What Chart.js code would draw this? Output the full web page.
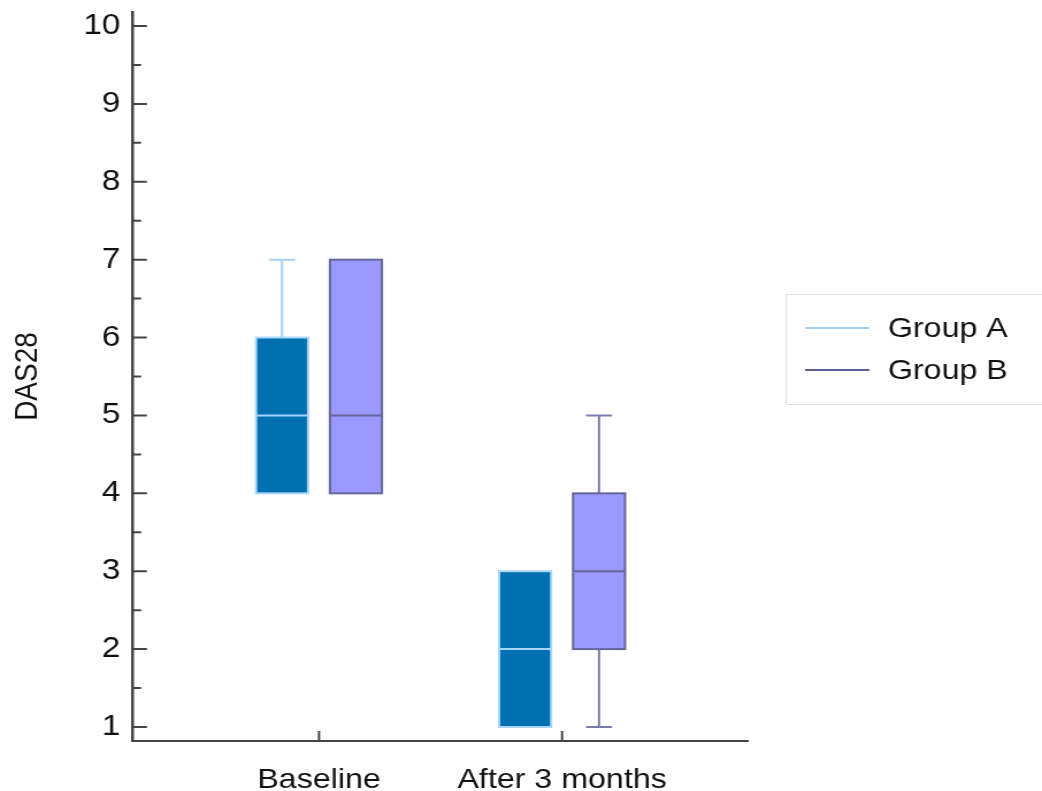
<!DOCTYPE html>
<html>
<head>
<meta charset="utf-8">
<title>DAS28</title>
<script src="https://cdn.jsdelivr.net/npm/chart.js@4.4.1/dist/chart.umd.min.js"></script>
<style>
  html, body { margin: 0; padding: 0; background: #fff; overflow: hidden; }
  /* the reference is drawn slightly wide, so the canvas is stretched horizontally */
  #wrap { width: 906px; height: 791px; transform: scaleX(1.1501); transform-origin: 0 0; }
</style>
</head>
<body>
<div id="wrap"><canvas id="chart" width="906" height="791"></canvas></div>
<script>
  'use strict';

  var categories = ['Baseline', 'After 3 months'];
  var yTicks = [1, 2, 3, 4, 5, 6, 7, 8, 9, 10];
  var groupLabels = ['Group A', 'Group B'];

  // box statistics, one value per category
  var groupAMin = [4, 1];
  var groupAQ1 = [4, 1];
  var groupAMedian = [5, 2];
  var groupAQ3 = [6, 3];
  var groupAMax = [7, 3];

  var groupBMin = [4, 1];
  var groupBQ1 = [4, 2];
  var groupBMedian = [5, 3];
  var groupBQ3 = [7, 4];
  var groupBMax = [7, 5];

  var font = { family: "'Liberation Sans', Arial, sans-serif", size: 28 };
  var textColor = '#111';
  var axisColor = '#444';

  var boxPlugin = {
    id: 'boxes',
    afterDatasetsDraw: function (chart) {
      var ctx = chart.ctx;
      var xs = chart.scales.x;
      var ys = chart.scales.y;
      ctx.save();
      chart.data.datasets.forEach(function (ds) {
        var s = ds.stats;
        var half = (xs.getPixelForValue(ds.boxWidth) - xs.getPixelForValue(0)) / 2;
        categories.forEach(function (c, i) {
          var cx = xs.getPixelForValue(i + ds.offset);
          var yMin = ys.getPixelForValue(s.min[i]);
          var yQ1 = ys.getPixelForValue(s.q1[i]);
          var yMed = ys.getPixelForValue(s.median[i]);
          var yQ3 = ys.getPixelForValue(s.q3[i]);
          var yMax = ys.getPixelForValue(s.max[i]);

          ctx.strokeStyle = ds.whiskerColor;
          ctx.lineWidth = 2;
          ctx.beginPath();
          if (s.max[i] > s.q3[i]) {
            ctx.moveTo(cx, yQ3); ctx.lineTo(cx, yMax);
            ctx.moveTo(cx - half / 2, yMax); ctx.lineTo(cx + half / 2, yMax);
          }
          if (s.min[i] < s.q1[i]) {
            ctx.moveTo(cx, yQ1); ctx.lineTo(cx, yMin);
            ctx.moveTo(cx - half / 2, yMin); ctx.lineTo(cx + half / 2, yMin);
          }
          ctx.stroke();

          ctx.fillStyle = ds.backgroundColor;
          ctx.fillRect(cx - half, yQ3, half * 2, yQ1 - yQ3);
          ctx.strokeStyle = ds.borderColor;
          ctx.lineWidth = 2;
          ctx.strokeRect(cx - half, yQ3, half * 2, yQ1 - yQ3);

          ctx.beginPath();
          ctx.moveTo(cx - half, yMed);
          ctx.lineTo(cx + half, yMed);
          ctx.stroke();
        });
      });
      ctx.restore();
    }
  };

  // inward tick marks on both axes
  var tickPlugin = {
    id: 'innerTicks',
    afterDraw: function (chart) {
      var ctx = chart.ctx;
      var xs = chart.scales.x;
      var ys = chart.scales.y;
      var left = chart.chartArea.left;
      var bottom = chart.chartArea.bottom;
      ctx.save();
      ctx.strokeStyle = axisColor;
      ctx.lineWidth = 2;
      ctx.beginPath();
      yTicks.forEach(function (v, i) {
        var y = ys.getPixelForValue(v);
        ctx.moveTo(left, y); ctx.lineTo(left + 12, y);
        if (i < yTicks.length - 1) {
          var ym = ys.getPixelForValue(v + 0.5);
          ctx.moveTo(left, ym); ctx.lineTo(left + 7, ym);
        }
      });
      categories.forEach(function (c, i) {
        var x = xs.getPixelForValue(i);
        ctx.moveTo(x, bottom); ctx.lineTo(x, bottom - 10);
      });
      ctx.stroke();
      ctx.restore();
    }
  };

  var legendPlugin = {
    id: 'boxLegend',
    afterDraw: function (chart) {
      var ctx = chart.ctx;
      ctx.save();
      ctx.strokeStyle = '#dddddd';
      ctx.lineWidth = 1;
      ctx.strokeRect(683.5, 294.5, 400, 110);
      ctx.font = font.size + 'px ' + font.family;
      ctx.textBaseline = 'middle';
      ctx.fillStyle = textColor;
      chart.data.datasets.forEach(function (ds, i) {
        var y = 328 + i * 42;
        ctx.strokeStyle = ds.legendColor;
        ctx.lineWidth = 2;
        ctx.beginPath();
        ctx.moveTo(700, y); ctx.lineTo(756, y);
        ctx.stroke();
        ctx.fillText(ds.label, 772, y + 1);
      });
      ctx.restore();
    }
  };

  var ctx = document.getElementById('chart');
  var chart = new Chart(ctx, {
    type: 'scatter',
    data: {
      datasets: [
        {
          label: groupLabels[0],
          data: [],
          stats: { min: groupAMin, q1: groupAQ1, median: groupAMedian, q3: groupAQ3, max: groupAMax },
          offset: -0.152,
          boxWidth: 0.214,
          backgroundColor: '#0070b0',
          borderColor: '#a8d6fb',
          whiskerColor: '#a3d1f7',
          legendColor: '#a3d1f7'
        },
        {
          label: groupLabels[1],
          data: [],
          stats: { min: groupBMin, q1: groupBQ1, median: groupBMedian, q3: groupBQ3, max: groupBMax },
          offset: 0.152,
          boxWidth: 0.214,
          backgroundColor: '#9999ff',
          borderColor: '#666699',
          whiskerColor: '#7a7aaa',
          legendColor: '#5c5c99'
        }
      ]
    },
    options: {
      responsive: false,
      animation: false,
      layout: { padding: { top: 12, right: 255.6, left: 0, bottom: 0 } },
      plugins: {
        legend: { display: false },
        tooltip: { enabled: false }
      },
      scales: {
        x: {
          type: 'linear',
          min: -0.765,
          max: 1.765,
          afterBuildTicks: function (axis) {
            axis.ticks = categories.map(function (c, i) { return { value: i }; });
          },
          afterFit: function (axis) {
            axis.height = 50;
            axis.paddingLeft = 0;
            axis.paddingRight = 0;
          },
          grid: { display: false },
          border: { display: true, color: axisColor, width: 2 },
          ticks: {
            padding: 14,
            color: textColor,
            font: font,
            maxRotation: 0,
            autoSkip: false,
            callback: function (value) { return categories[value]; }
          }
        },
        y: {
          min: 0.82,
          max: 10.18,
          afterBuildTicks: function (axis) {
            axis.ticks = yTicks.map(function (v) { return { value: v }; });
          },
          afterFit: function (axis) {
            axis.width = 115.7;
            axis.paddingTop = 0;
            axis.paddingBottom = 0;
          },
          grid: { display: false },
          border: { display: true, color: axisColor, width: 2.5 },
          ticks: { padding: 3, color: textColor, font: { family: font.family, size: 29 } },
          title: {
            display: true,
            text: 'DAS28',
            color: textColor,
            font: { family: font.family, size: 28, lineHeight: 1.2 },
            padding: { top: 7, bottom: 0 }
          }
        }
      }
    },
    plugins: [boxPlugin, tickPlugin, legendPlugin]
  });
</script>
</body>
</html>
